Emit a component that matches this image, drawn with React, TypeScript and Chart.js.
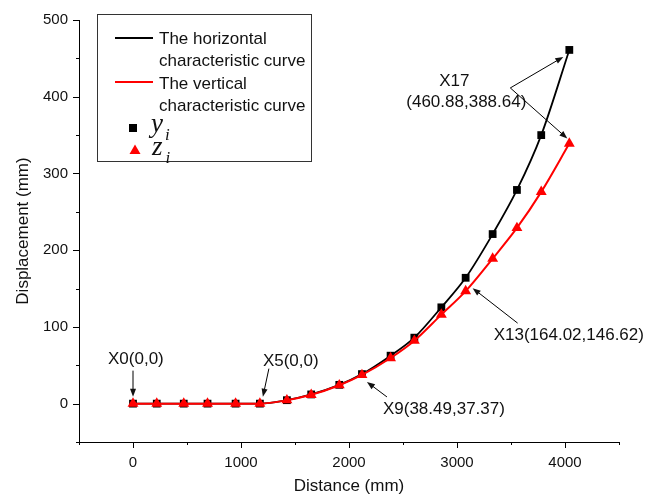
import React, { useEffect, useRef } from 'react';
import { Chart, registerables } from 'chart.js';

Chart.register(...registerables);

// ---- data ----
const distance = [0, 220, 470, 690, 950, 1175, 1425, 1650, 1910, 2120, 2385, 2605, 2855, 3080, 3330, 3555, 3780, 4040];
const horizontalY = [0, 0, 0, 0, 0, 0, 4.5, 12, 24.5, 38.5, 62.5, 86, 125.5, 164.02, 221, 278.5, 350, 461];
const verticalZ = [0, 0, 0, 0, 0, 0, 4.5, 11.5, 24, 37.4, 59.5, 82, 116, 146.62, 189, 229, 276, 339];

const xTickStep = 500;
const xLabelStep = 1000;
const yTickStep = 50;
const yLabelStep = 100;

const seriesNames = ['The horizontal', 'characteristic curve', 'The vertical', 'characteristic curve'];
const annotationTexts = ['X0(0,0)', 'X5(0,0)', 'X9(38.49,37.37)', 'X13(164.02,146.62)', 'X17', '(460.88,388.64)'];

const SANS = "'Liberation Sans', Arial, sans-serif";
const SERIF = "'Liberation Serif', 'Times New Roman', serif";
const TEXT = '#111';

function arrow(ctx: CanvasRenderingContext2D, x1: number, y1: number, x2: number, y2: number) {
  const a = Math.atan2(y2 - y1, x2 - x1);
  const L = 8, W = 3;
  ctx.beginPath();
  ctx.moveTo(x1, y1);
  ctx.lineTo(x2 - (L - 1) * Math.cos(a), y2 - (L - 1) * Math.sin(a));
  ctx.stroke();
  ctx.beginPath();
  ctx.moveTo(x2, y2);
  ctx.lineTo(x2 - L * Math.cos(a) + W * Math.sin(a), y2 - L * Math.sin(a) - W * Math.cos(a));
  ctx.lineTo(x2 - L * Math.cos(a) - W * Math.sin(a), y2 - L * Math.sin(a) + W * Math.cos(a));
  ctx.closePath();
  ctx.fill();
}

const tickPlugin = {
  id: 'minorMajorTicks',
  afterDraw(chart: any) {
    const { ctx } = chart;
    const xs = chart.scales.x;
    const ys = chart.scales.y;
    ctx.save();
    ctx.strokeStyle = '#000';
    ctx.lineWidth = 1;
    xs.ticks.forEach((t: any) => {
      const px = Math.round(xs.getPixelForValue(t.value)) + 0.5;
      const len = t.value % xLabelStep === 0 ? 6 : 3;
      ctx.beginPath();
      ctx.moveTo(px, xs.top);
      ctx.lineTo(px, xs.top + len);
      ctx.stroke();
    });
    ys.ticks.forEach((t: any) => {
      const py = Math.round(ys.getPixelForValue(t.value)) + 0.5;
      const len = t.value % yLabelStep === 0 ? 6 : 3;
      ctx.beginPath();
      ctx.moveTo(ys.right - len, py);
      ctx.lineTo(ys.right, py);
      ctx.stroke();
    });
    ctx.restore();
  },
};

const annotationPlugin = {
  id: 'annotations',
  afterDraw(chart: any) {
    const { ctx } = chart;
    const xs = chart.scales.x;
    const ys = chart.scales.y;
    const P = (i: number, arr: number[]) => ({ x: xs.getPixelForValue(distance[i]), y: ys.getPixelForValue(arr[i]) });
    ctx.save();
    ctx.fillStyle = TEXT;
    ctx.strokeStyle = '#000';
    ctx.lineWidth = 1;
    ctx.font = `17px ${SANS}`;
    ctx.textBaseline = 'middle';
    ctx.textAlign = 'left';

    // X0
    const p0 = P(0, horizontalY);
    ctx.fillText(annotationTexts[0], p0.x - 25, p0.y - 44);
    arrow(ctx, p0.x, p0.y - 33, p0.x, p0.y - 7);

    // X5
    const p5 = P(5, horizontalY);
    ctx.fillText(annotationTexts[1], p5.x + 3, p5.y - 42);
    arrow(ctx, p5.x + 9, p5.y - 35, p5.x + 3, p5.y - 7);

    // X9
    const p9 = P(9, verticalZ);
    ctx.fillText(annotationTexts[2], p9.x + 21, p9.y + 34);
    arrow(ctx, p9.x + 25, p9.y + 22, p9.x + 5, p9.y + 7);

    // X13
    const p13 = P(13, verticalZ);
    ctx.fillText(annotationTexts[3], p13.x + 28, p13.y + 44);
    arrow(ctx, p13.x + 52, p13.y + 32, p13.x + 7, p13.y - 3);

    // X17
    const b17 = P(17, horizontalY);
    const r17 = P(17, verticalZ);
    ctx.textAlign = 'center';
    ctx.fillText(annotationTexts[4], b17.x - 115, b17.y + 31.5);
    ctx.fillText(annotationTexts[5], b17.x - 103, b17.y + 52.5);
    const vx = b17.x - 59, vy = b17.y + 38;
    arrow(ctx, vx, vy, b17.x - 6, b17.y + 7);
    arrow(ctx, vx, vy, r17.x - 2, r17.y - 5);
    ctx.restore();
  },
};

const legendPlugin = {
  id: 'customLegend',
  afterDraw(chart: any) {
    const { ctx } = chart;
    ctx.save();
    ctx.strokeStyle = '#333';
    ctx.lineWidth = 1;
    ctx.strokeRect(97.5, 14.5, 214, 147);

    // line samples
    ctx.lineWidth = 2;
    ctx.strokeStyle = '#000';
    ctx.beginPath(); ctx.moveTo(115, 38); ctx.lineTo(153, 38); ctx.stroke();
    ctx.strokeStyle = '#ff0000';
    ctx.beginPath(); ctx.moveTo(115, 82); ctx.lineTo(153, 82); ctx.stroke();

    ctx.fillStyle = TEXT;
    ctx.font = `17px ${SANS}`;
    ctx.textBaseline = 'middle';
    ctx.textAlign = 'left';
    ctx.fillText(seriesNames[0], 159, 39);
    ctx.fillText(seriesNames[1], 159, 61.5);
    ctx.fillText(seriesNames[2], 159, 84);
    ctx.fillText(seriesNames[3], 159, 106.5);

    // marker samples
    ctx.fillStyle = '#000';
    ctx.fillRect(129, 124, 8, 8);
    ctx.fillStyle = '#ff0000';
    ctx.beginPath();
    ctx.moveTo(135, 144.5);
    ctx.lineTo(140.5, 154);
    ctx.lineTo(129.5, 154);
    ctx.closePath();
    ctx.fill();

    ctx.fillStyle = TEXT;
    ctx.textBaseline = 'alphabetic';
    ctx.font = `italic 27px ${SERIF}`;
    ctx.fillText('y', 151, 131.5);
    ctx.fillText('z', 152, 155);
    ctx.font = `italic 17px ${SERIF}`;
    ctx.fillText('i', 165, 140);
    ctx.fillText('i', 165.5, 163);
    ctx.restore();
  },
};

export default function App() {
  const canvasRef = useRef<HTMLCanvasElement | null>(null);

  useEffect(() => {
    if (!canvasRef.current) return;
    const chart = new Chart(canvasRef.current, {
      type: 'line',
      data: {
        datasets: [
          {
            label: 'z',
            data: distance.map((d, i) => ({ x: d, y: verticalZ[i] })),
            borderColor: '#ff0000',
            backgroundColor: '#ff0000',
            borderWidth: 2,
            pointStyle: 'triangle',
            pointRadius: 6.3,
            pointBorderWidth: 0,
            cubicInterpolationMode: 'monotone',
            order: 0,
          },
          {
            label: 'y',
            data: distance.map((d, i) => ({ x: d, y: horizontalY[i] })),
            borderColor: '#000000',
            backgroundColor: '#000000',
            borderWidth: 1.8,
            pointStyle: 'rect',
            pointRadius: 5.5,
            pointBorderWidth: 0,
            cubicInterpolationMode: 'monotone',
            order: 1,
          },
        ],
      },
      options: {
        responsive: false,
        animation: false,
        devicePixelRatio: 1,
        layout: { padding: { top: 20, right: 38, left: 0, bottom: 0 } },
        plugins: { legend: { display: false }, tooltip: { enabled: false } },
        scales: {
          x: {
            type: 'linear',
            min: -500,
            max: 4500,
            afterFit: (s: any) => { s.height = 53; s.paddingLeft = 0; s.paddingRight = 0; },
            ticks: {
              stepSize: xTickStep,
              autoSkip: false,
              maxRotation: 0,
              padding: 12,
              color: TEXT,
              font: { family: SANS, size: 15 },
              callback: (v: any) => (Number(v) % xLabelStep === 0 ? String(v) : ''),
            },
            grid: { display: false, drawTicks: false },
            border: { display: true, color: '#000', width: 1 },
            title: {
              display: true,
              text: 'Distance (mm)',
              color: TEXT,
              font: { family: SANS, size: 17, lineHeight: 1 },
              padding: { top: 0, bottom: 0 },
            },
          },
          y: {
            type: 'linear',
            min: -50,
            max: 500,
            afterFit: (s: any) => { s.width = 79; s.paddingTop = 0; s.paddingBottom = 0; },
            ticks: {
              stepSize: yTickStep,
              autoSkip: false,
              padding: 11,
              color: TEXT,
              font: { family: SANS, size: 15 },
              callback: (v: any) => (Number(v) % yLabelStep === 0 ? String(v) : ''),
            },
            grid: { display: false, drawTicks: false },
            border: { display: true, color: '#000', width: 1 },
            title: {
              display: true,
              text: 'Displacement (mm)',
              color: TEXT,
              font: { family: SANS, size: 17, lineHeight: 1.2 },
              padding: { top: 13, bottom: 0 },
            },
          },
        },
      },
      plugins: [tickPlugin, annotationPlugin, legendPlugin],
    } as any);
    return () => chart.destroy();
  }, []);

  return (
    <div style={{ position: 'fixed', left: 0, top: 0, width: 657, height: 495, background: '#fff' }}>
      <canvas ref={canvasRef} width={657} height={495} style={{ width: 657, height: 495, display: 'block' }} />
    </div>
  );
}
